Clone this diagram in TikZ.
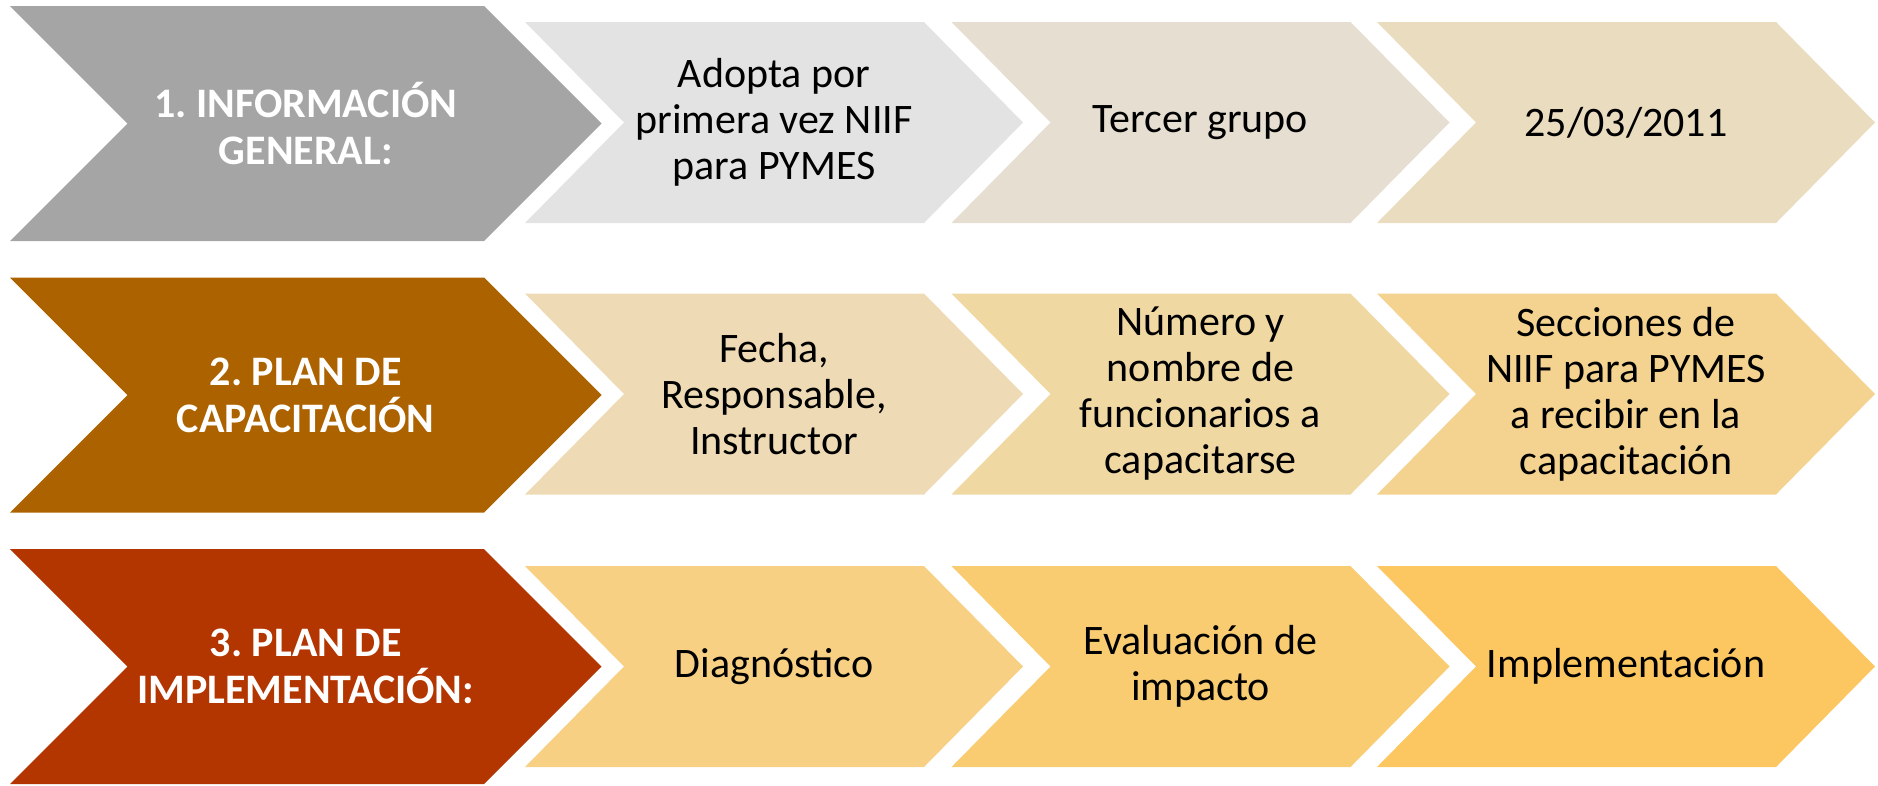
\documentclass[tikz,border=0pt]{standalone}
\usepackage{fontspec}
\setmainfont{Carlito}
\frenchspacing
\definecolor{ga}{HTML}{A5A5A5}
\definecolor{ga1}{HTML}{E3E3E3}
\definecolor{ga2}{HTML}{E6DFD1}
\definecolor{ga3}{HTML}{EADCBF}
\definecolor{ba}{HTML}{AD6200}
\definecolor{ba1}{HTML}{EEDBB5}
\definecolor{ba2}{HTML}{F0D8A3}
\definecolor{ba3}{HTML}{F3D38F}
\definecolor{ra}{HTML}{B33500}
\definecolor{ra1}{HTML}{F7D084}
\definecolor{ra2}{HTML}{F9CC72}
\definecolor{ra3}{HTML}{FCC760}
% name, x0, ytop, top length, height, depth, colour, text style, text
\newcommand\mychev[9]{%
  \fill[#7] (#2,#3) -- ({#2+#4},#3) -- ({#2+#4+#6},{#3+#5/2}) -- ({#2+#4},{#3+#5})
    -- (#2,{#3+#5}) -- ({#2+#6},{#3+#5/2}) -- cycle;
  \node[#8] (#1) at ({#2+(#4+#6)/2},{#3+#5/2}) {#9};
}
\tikzset{
  bigtxt/.style={align=center,text=white,font=\fontsize{42}{47}\selectfont\bfseries\frenchspacing,inner sep=0pt},
  smalltxt/.style={align=center,text=black,font=\fontsize{42}{46}\selectfont\frenchspacing,inner sep=0pt}
}
\begin{document}
\begin{tikzpicture}[x=1pt,y=-1pt]
\useasboundingbox (0,0) rectangle (1878,785);
% Row 1
\mychev{b1}{10}{6}{474}{235}{117.5}{ga}{bigtxt}{1. INFORMACIÓN\\GENERAL:}
\mychev{r1a}{525}{22}{399}{201}{99}{ga1}{smalltxt}{Adopta por\\primera vez NIIF\\para PYMES}
\mychev{r1b}{951.5}{22}{399}{201}{99}{ga2}{smalltxt}{Tercer grupo}
\mychev{r1c}{1377}{22}{399}{201}{99}{ga3}{smalltxt}{25/03/2011}
% Row 2
\mychev{b2}{10}{277.5}{474}{235}{117.5}{ba}{bigtxt}{2. PLAN DE\\CAPACITACIÓN}
\mychev{r2a}{525}{293.5}{399}{201}{99}{ba1}{smalltxt}{Fecha,\\Responsable,\\Instructor}
\mychev{r2b}{951.5}{293.5}{399}{201}{99}{ba2}{smalltxt}{Número y\\nombre de\\funcionarios a\\capacitarse}
\mychev{r2c}{1377}{293.5}{399}{201}{99}{ba3}{smalltxt}{Secciones de\\NIIF para PYMES\\a recibir en la\\capacitación}
% Row 3
\mychev{b3}{10}{549}{474}{235}{117.5}{ra}{bigtxt}{3. PLAN DE\\IMPLEMENTACIÓN:}
\mychev{r3a}{525}{566}{399}{201}{99}{ra1}{smalltxt}{Diagnóstico}
\mychev{r3b}{951.5}{566}{399}{201}{99}{ra2}{smalltxt}{Evaluación de\\impacto}
\mychev{r3c}{1377}{566}{399}{201}{99}{ra3}{smalltxt}{Implementación}
\end{tikzpicture}
\end{document}
